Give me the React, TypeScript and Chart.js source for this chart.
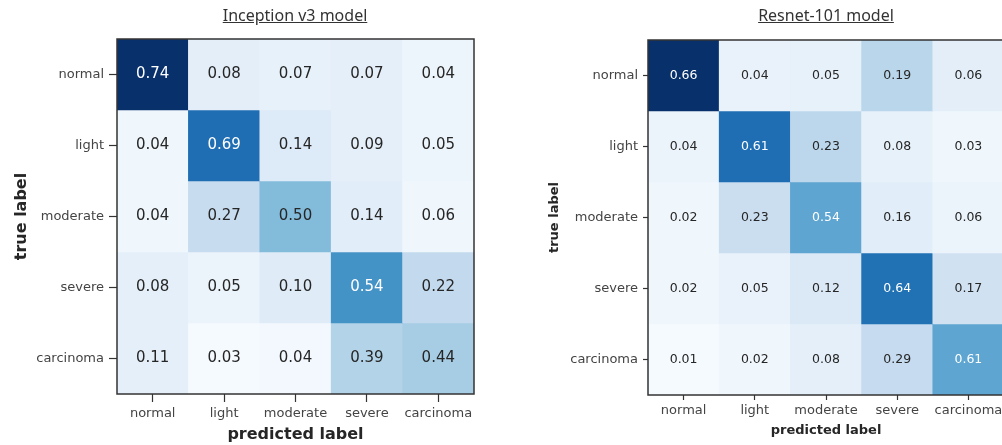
import { useEffect, useRef } from 'react';
import { Chart, registerables } from 'chart.js';

Chart.register(...registerables);

// Class names along both axes
const predictedLabels = ['normal', 'light', 'moderate', 'severe', 'carcinoma'];
const trueLabels = ['normal', 'light', 'moderate', 'severe', 'carcinoma'];

// Normalised confusion matrices (rows = true label, columns = predicted label)
const inceptionValues = [
  [0.74, 0.08, 0.07, 0.07, 0.04],
  [0.04, 0.69, 0.14, 0.09, 0.05],
  [0.04, 0.27, 0.5, 0.14, 0.06],
  [0.08, 0.05, 0.1, 0.54, 0.22],
  [0.11, 0.03, 0.04, 0.39, 0.44],
];
const resnetValues = [
  [0.66, 0.04, 0.05, 0.19, 0.06],
  [0.04, 0.61, 0.23, 0.08, 0.03],
  [0.02, 0.23, 0.54, 0.16, 0.06],
  [0.02, 0.05, 0.12, 0.64, 0.17],
  [0.01, 0.02, 0.08, 0.29, 0.61],
];

// Colour-scale position of each cell (from the raw counts, 0 = lightest, 1 = darkest)
const inceptionShade = [
  [1.0, 0.1, 0.08, 0.09, 0.05],
  [0.04, 0.76, 0.13, 0.09, 0.05],
  [0.04, 0.24, 0.44, 0.11, 0.04],
  [0.09, 0.06, 0.12, 0.62, 0.26],
  [0.09, 0.01, 0.02, 0.31, 0.35],
];
const resnetShade = [
  [1.0, 0.07, 0.08, 0.29, 0.1],
  [0.06, 0.76, 0.28, 0.08, 0.04],
  [0.04, 0.23, 0.54, 0.11, 0.06],
  [0.04, 0.07, 0.14, 0.75, 0.2],
  [0.01, 0.04, 0.09, 0.25, 0.54],
];

// "Blues" sequential colour map anchors
const BLUES: [number, number, number][] = [
  [247, 251, 255],
  [222, 235, 247],
  [198, 219, 239],
  [158, 202, 225],
  [107, 174, 214],
  [66, 146, 198],
  [33, 113, 181],
  [8, 81, 156],
  [8, 48, 107],
];

function blues(t: number): string {
  const v = Math.min(1, Math.max(0, t)) * (BLUES.length - 1);
  const i = Math.min(BLUES.length - 2, Math.floor(v));
  const f = v - i;
  const a = BLUES[i];
  const b = BLUES[i + 1];
  const c = a.map((x, k) => Math.round(x + (b[k] - x) * f));
  return `rgb(${c[0]},${c[1]},${c[2]})`;
}

const FONT = "'DejaVu Sans', sans-serif";

interface PanelStyle {
  canvasWidth: number;
  padTop: number;
  padRight: number;
  yAxisWidth: number;
  xAxisHeight: number;
  tickLength: number;
  tickFont: number;
  yTickPadding: number;
  xTickPadding: number;
  titleFont: number;
  xTitlePadBottom: number;
  yTitlePadTop: number;
  cellFont: number;
}

interface MatrixProps {
  values: number[][];
  shade: number[][];
  s: PanelStyle;
}

function ConfusionMatrix({ values, shade, s }: MatrixProps) {
  const ref = useRef<HTMLCanvasElement | null>(null);

  useEffect(() => {
    const canvas = ref.current;
    if (!canvas) return;

    // Writes each cell's value on top of its bar and frames the plot area
    const cellText = {
      id: 'cellText',
      afterDatasetsDraw(chart: any) {
        const ctx = chart.ctx as CanvasRenderingContext2D;
        ctx.save();
        ctx.font = `${s.cellFont}px ${FONT}`;
        ctx.textAlign = 'center';
        ctx.textBaseline = 'middle';
        chart.data.datasets.forEach((_ds: any, i: number) => {
          const meta = chart.getDatasetMeta(i);
          meta.data.forEach((el: any, j: number) => {
            const p = el.getCenterPoint();
            ctx.fillStyle = shade[i][j] > 0.5 ? '#ffffff' : '#262626';
            ctx.fillText(values[i][j].toFixed(2), p.x, p.y);
          });
        });
        ctx.restore();
      },
      afterDraw(chart: any) {
        const { left, top, right, bottom } = chart.chartArea;
        const ctx = chart.ctx as CanvasRenderingContext2D;
        ctx.save();
        ctx.strokeStyle = '#333333';
        ctx.lineWidth = 1.5;
        ctx.strokeRect(left, top, right - left, bottom - top);
        ctx.restore();
      },
    };

    const datasets = trueLabels.map((name, i) => ({
      label: name,
      data: predictedLabels.map((p) => ({ x: p, y: [i - 0.5, i + 0.5] })),
      backgroundColor: shade[i].map(blues),
      borderWidth: 0,
      barPercentage: 1,
      categoryPercentage: 1,
      grouped: false,
    }));

    const grid = {
      display: true,
      drawOnChartArea: false,
      drawTicks: true,
      tickLength: s.tickLength,
      tickColor: '#333333',
      tickWidth: 1.2,
      offset: false,
    };

    const chart = new Chart(canvas, {
      type: 'bar',
      data: { labels: predictedLabels, datasets: datasets as any },
      plugins: [cellText],
      options: {
        animation: false,
        responsive: false,
        devicePixelRatio: 1,
        events: [],
        layout: { padding: { top: s.padTop, right: s.padRight, left: 0, bottom: 0 } },
        plugins: {
          legend: { display: false },
          tooltip: { enabled: false },
          title: { display: false },
        },
        scales: {
          x: {
            type: 'category',
            labels: predictedLabels,
            offset: true,
            grid,
            border: { display: false },
            ticks: {
              color: '#444444',
              font: { family: FONT, size: s.tickFont },
              padding: s.xTickPadding,
              autoSkip: false,
              maxRotation: 0,
            },
            title: {
              display: true,
              text: 'predicted label',
              color: '#262626',
              font: { family: FONT, size: s.titleFont, weight: 'bold' },
              padding: { top: 0, bottom: s.xTitlePadBottom },
            },
            afterFit: (scale: any) => {
              scale.height = s.xAxisHeight;
            },
          },
          y: {
            type: 'linear',
            min: -0.5,
            max: 4.5,
            reverse: true,
            afterBuildTicks: (scale: any) => {
              scale.ticks = trueLabels.map((_n, i) => ({ value: i }));
            },
            grid,
            border: { display: false },
            ticks: {
              color: '#444444',
              font: { family: FONT, size: s.tickFont },
              padding: s.yTickPadding,
              autoSkip: false,
              callback: (v: any) => trueLabels[Number(v)] ?? '',
            },
            title: {
              display: true,
              text: 'true label',
              color: '#262626',
              font: { family: FONT, size: s.titleFont, weight: 'bold' },
              padding: { top: s.yTitlePadTop, bottom: 0 },
            },
            afterFit: (scale: any) => {
              scale.width = s.yAxisWidth;
            },
          },
        },
      } as any,
    });

    return () => chart.destroy();
  }, [values, shade, s]);

  return <canvas ref={ref} width={s.canvasWidth} height={445} style={{ display: 'block' }} />;
}

const inceptionStyle: PanelStyle = {
  canvasWidth: 500,
  padTop: 39,
  padRight: 26,
  yAxisWidth: 117,
  xAxisHeight: 51,
  tickLength: 8,
  tickFont: 13,
  yTickPadding: 5,
  xTickPadding: 4,
  titleFont: 16,
  xTitlePadBottom: 1,
  yTitlePadTop: 12,
  cellFont: 15,
};

const resnetStyle: PanelStyle = {
  canvasWidth: 470,
  padTop: 40,
  padRight: 6,
  yAxisWidth: 108,
  xAxisHeight: 50,
  tickLength: 5,
  tickFont: 13,
  yTickPadding: 5,
  xTickPadding: 3,
  titleFont: 13,
  xTitlePadBottom: 7,
  yTitlePadTop: 7,
  cellFont: 12.5,
};

const titleStyle = {
  position: 'absolute' as const,
  top: 5,
  width: 300,
  textAlign: 'center' as const,
  fontFamily: "'Noto Sans', sans-serif",
  fontSize: 16,
  lineHeight: '20px',
  color: '#333333',
  textDecoration: 'underline',
};

export default function App() {
  return (
    <div
      style={{
        position: 'absolute',
        left: 0,
        top: 0,
        width: 1002,
        height: 445,
        overflow: 'hidden',
        background: '#ffffff',
      }}
    >
      <div style={{ position: 'absolute', left: 0, top: 0 }}>
        <ConfusionMatrix values={inceptionValues} shade={inceptionShade} s={inceptionStyle} />
      </div>
      <div style={{ position: 'absolute', left: 540, top: 0 }}>
        <ConfusionMatrix values={resnetValues} shade={resnetShade} s={resnetStyle} />
      </div>
      <div style={{ ...titleStyle, left: 295 - 150 }}>Inception v3 model</div>
      <div style={{ ...titleStyle, left: 826 - 150 }}>Resnet-101 model</div>
    </div>
  );
}
